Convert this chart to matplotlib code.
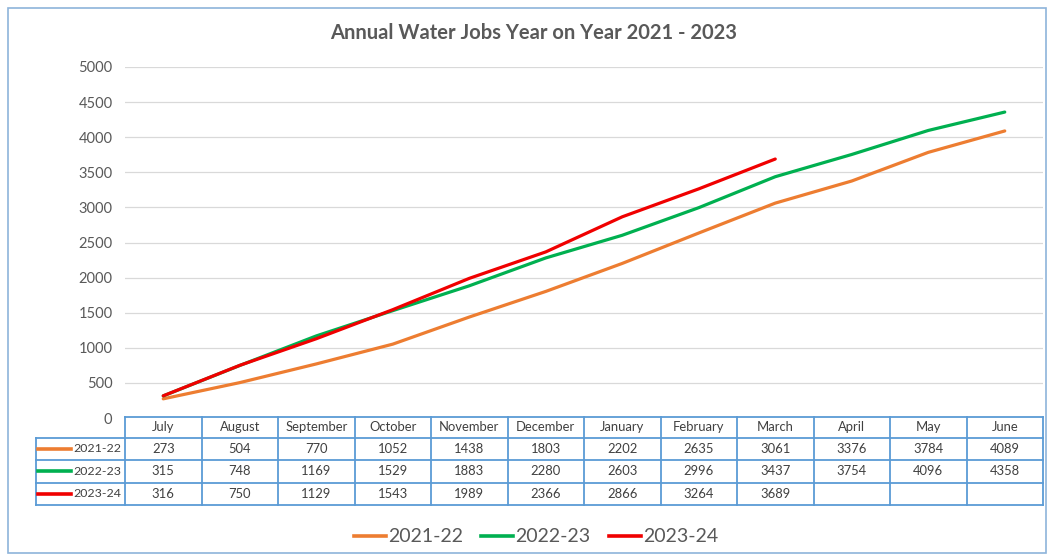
import matplotlib.pyplot as plt
from matplotlib.lines import Line2D
from matplotlib.patches import Rectangle
from matplotlib.transforms import blended_transform_factory

months = ['July', 'August', 'September', 'October', 'November', 'December',
          'January', 'February', 'March', 'April', 'May', 'June']
series_names = ['2021-22', '2022-23', '2023-24']
jobs_2122 = [273, 504, 770, 1052, 1438, 1803, 2202, 2635, 3061, 3376, 3784, 4089]
jobs_2223 = [315, 748, 1169, 1529, 1883, 2280, 2603, 2996, 3437, 3754, 4096, 4358]
jobs_2324 = [316, 750, 1129, 1543, 1989, 2366, 2866, 3264, 3689]
colors = ['#ED7D31', '#00B050', '#F00000']

plt.rcParams['font.family'] = ['Lato', 'DejaVu Sans']
W, H = 1048, 557
fig = plt.figure(figsize=(W / 100, H / 100), dpi=100)

# main plot area
ax = fig.add_axes([125 / W, 1 - 418 / H, 918 / W, (418 - 67) / H])
series = [jobs_2122, jobs_2223, jobs_2324]
for name, vals, c in zip(series_names, series, colors):
    ax.plot(range(len(vals)), vals, color=c, lw=2.3, label=name, solid_capstyle='round')

ax.set_xlim(-0.5, len(months) - 0.5)
ax.set_ylim(0, 5000)
ax.set_yticks(range(0, 5001, 500))
ax.set_xticks([])
ax.grid(axis='y', color='#D9D9D9', lw=0.9)
ax.set_axisbelow(True)
for s in ax.spines.values():
    s.set_visible(False)
ax.tick_params(axis='y', length=0, pad=9, labelsize=10.5, labelcolor='#595959')

fig.text(534 / W, 1 - 33 / H, 'Annual Water Jobs Year on Year 2021 - 2023', fontsize=14.5,
         color='#595959', fontweight='bold', ha='center', va='center')

# overlay in pixel coordinates for the data table and frame
over = fig.add_axes([0, 0, 1, 1])
over.set_xlim(0, W)
over.set_ylim(H, 0)
over.axis('off')
over.patch.set_alpha(0)
over.add_patch(Rectangle((7.5, 7.5), W - 9.5, H - 11.5, fill=False, ec='#8EB4DA', lw=1.2))

tr = blended_transform_factory(ax.transData, over.transData)
tcol = '#5B9BD5'
row_y = [417, 437.5, 460, 482.5, 505]
lab_left = -0.5 - 89 / 76.5
fs = 9.4

# horizontal lines
over.plot([-0.5, len(months) - 0.5], [row_y[0]] * 2, color=tcol, lw=1.3, transform=tr)
for y in row_y[1:]:
    over.plot([lab_left, len(months) - 0.5], [y, y], color=tcol, lw=1.3, transform=tr)
# vertical lines
for i in range(len(months) + 1):
    over.plot([i - 0.5] * 2, [row_y[0], row_y[-1]], color=tcol, lw=1.3, transform=tr)
over.plot([lab_left] * 2, [row_y[1], row_y[-1]], color=tcol, lw=1.3, transform=tr)

# header
hy = (row_y[0] + row_y[1]) / 2
for i, m in enumerate(months):
    over.text(i, hy, m, ha='center', va='center', fontsize=fs, color='#404040', transform=tr)

# rows
for r, (name, vals, c) in enumerate(zip(series_names, series, colors)):
    cy = (row_y[r + 1] + row_y[r + 2]) / 2
    over.plot([38, 71], [cy, cy], color=c, lw=2.6)
    over.text(121, cy, name, ha='right', va='center', fontsize=8.9, color='#404040')
    for i, v in enumerate(vals):
        over.text(i, cy, str(v), ha='center', va='center', fontsize=fs, color='#404040',
                  transform=tr)

handles = [Line2D([], [], color=c, lw=2.6) for c in colors]
fig.legend(handles, series_names, loc='center', bbox_to_anchor=(536 / W, 1 - 537 / H),
           ncol=3, frameon=False, fontsize=14, handlelength=1.65, handletextpad=0.1,
           columnspacing=0.95, labelcolor='#595959')

fig.savefig('out.png', dpi=100)
